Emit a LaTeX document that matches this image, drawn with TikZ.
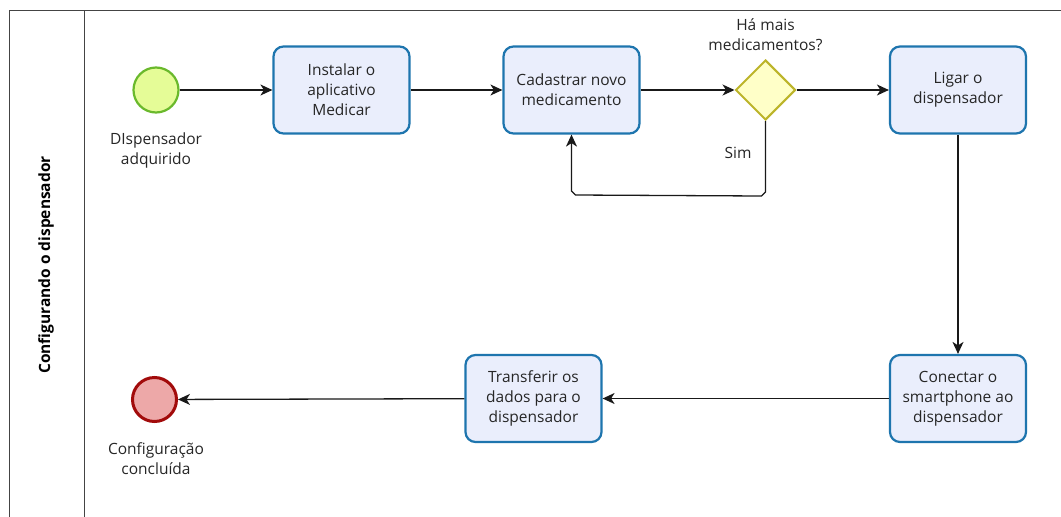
\documentclass[tikz,border=0pt]{standalone}
\usepackage{fontspec}
\setmainfont{Open Sans}
\usetikzlibrary{shapes.geometric,arrows.meta}
\definecolor{taskfill}{HTML}{EAEEFC}
\definecolor{taskdraw}{HTML}{1E75AE}
\definecolor{startfill}{HTML}{E5FC97}
\definecolor{startdraw}{HTML}{6AB92C}
\definecolor{gwfill}{HTML}{FFFFC8}
\definecolor{gwdraw}{HTML}{BCB42A}
\definecolor{endfill}{HTML}{EDA8A8}
\definecolor{enddraw}{HTML}{A20B0B}
\definecolor{lanedraw}{HTML}{444444}
\tikzset{
  task/.style={draw=taskdraw, fill=taskfill, line width=2.2pt, rounded corners=10pt,
    minimum width=136pt, minimum height=87pt, align=center, font=\fontsize{15.5}{20}\selectfont, text=black!85, inner sep=2pt},
  startev/.style={circle, draw=startdraw, fill=startfill, line width=2.2pt, minimum size=45pt, inner sep=0pt},
  endev/.style={circle, draw=enddraw, fill=endfill, line width=3pt, minimum size=44pt, inner sep=0pt},
  gw/.style={diamond, draw=gwdraw, fill=gwfill, line width=2pt, minimum width=60pt, minimum height=60pt, inner sep=0pt, aspect=1},
  lbl/.style={align=center, font=\fontsize{15.5}{20}\selectfont, text=black!85},
  flow/.style={draw=black!90, line width=1.3pt, -{Stealth[length=12pt,width=11pt,inset=3.5pt]}},
  lane/.style={draw=lanedraw, line width=1pt}
}
\begin{document}
\begin{tikzpicture}[x=1pt,y=-1pt]
\useasboundingbox (0,0) rectangle (1061,517);
\fill[white] (0,0) rectangle (1061,517);
% pool / lane
\coordinate (ptl) at (9,10);
\coordinate (ptr) at (1061,10);
\coordinate (pbl) at (9,517);
\coordinate (dtop) at (84,10);
\coordinate (dbot) at (84,517);
\draw[lane] (pbl) -- (ptl) -- (ptr);
\draw[lane] (dtop) -- (dbot);
\node[rotate=90, font=\bfseries\fontsize{15.5}{18}\selectfont] (lanelbl) at (46,265) {Configurando o dispensador};
% nodes
\node[startev] (start) at (156,90) {};
\node[lbl] (startlbl) at (156,150) {DIspensador\\adquirido};
\node[task] (t1) at (341.5,90) {Instalar o\\aplicativo\\Medicar};
\node[task] (t2) at (571.5,90) {Cadastrar novo\\medicamento};
\node[gw] (g) at (765.5,90) {};
\node[lbl] (glbl) at (765.5,35) {Há mais\\medicamentos?};
\node[task] (t3) at (958,90) {Ligar o\\dispensador};
\node[task] (t4) at (958,398.5) {Conectar o\\smartphone ao\\dispensador};
\node[task] (t5) at (533.5,398.5) {Transferir os\\dados para o\\dispensador};
\node[endev] (end) at (154.5,399.5) {};
\node[lbl] (endlbl) at (156,459) {Configuração\\concluída};
\node[lbl] (sim) at (738,153) {Sim};
% flows
\draw[flow] (start) -- (t1);
\draw[flow] (t1) -- (t2);
\draw[flow] (t2) -- (g);
\draw[flow] (g) -- (t3);
\draw[flow] (g.south) -- ++(0,71) -- ++(-4,4) -- (575.5,195) -- ++(-4,-4) -- (t2.south);
\draw[flow] (t3) -- (t4);
\draw[flow] (t4) -- (t5);
\draw[flow] (t5) -- (end);
\end{tikzpicture}
\end{document}
